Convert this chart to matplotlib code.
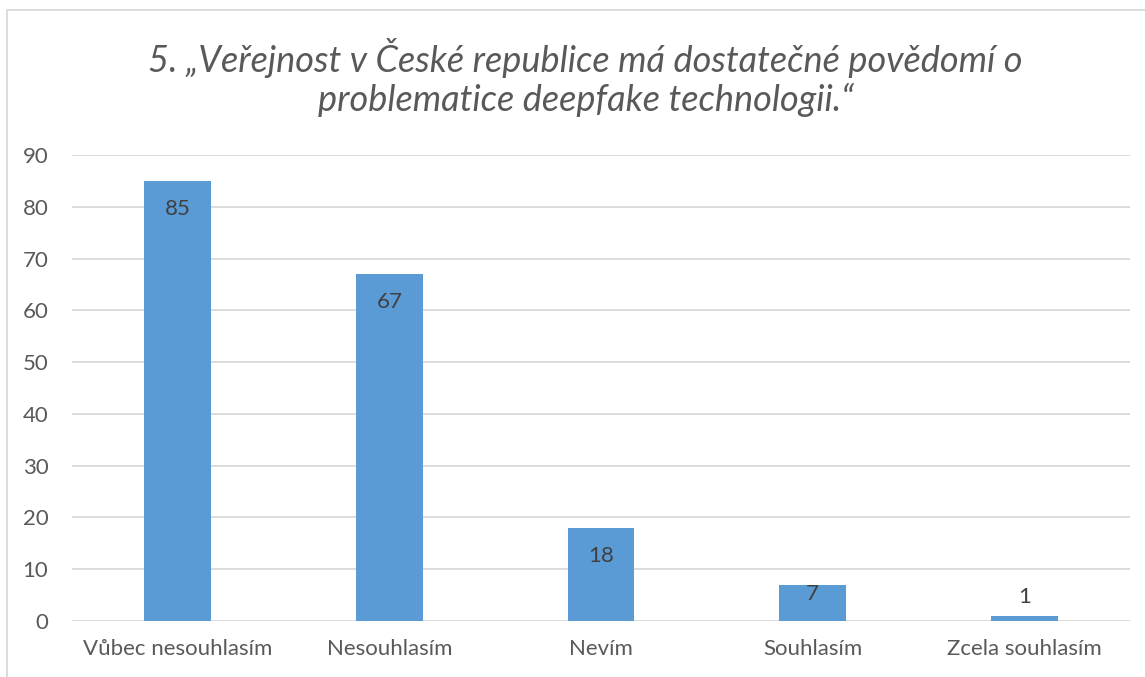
import matplotlib
matplotlib.use("Agg")
import matplotlib.pyplot as plt
from matplotlib.patches import Rectangle

categories = ["Vůbec nesouhlasím", "Nesouhlasím", "Nevím", "Souhlasím", "Zcela souhlasím"]
values = [85, 67, 18, 7, 1]
yticks = [0, 10, 20, 30, 40, 50, 60, 70, 80, 90]
title_lines = ["5. „Veřejnost v České republice má dostatečné povědomí o",
               "problematice deepfake technologii.“"]

plt.rcParams['font.family'] = ['Lato', 'DejaVu Sans']
txt = '#595959'
bar_color = '#5B9BD5'

W, H = 1145, 677
fig = plt.figure(figsize=(W / 100, H / 100), dpi=100)
ax = fig.add_axes([72 / W, 1 - 621 / H, (1130 - 72) / W, (621 - 155) / H])

x = list(range(len(categories)))
bars = ax.bar(x, values, width=0.316, color=bar_color, zorder=3)
ax.set_xlim(-0.5, len(categories) - 0.5)
ax.set_ylim(0, 90)
ax.set_yticks(yticks)
ax.set_xticks(x)
ax.set_xticklabels(categories)
ax.tick_params(axis='both', length=0, colors=txt, labelsize=16)
ax.tick_params(axis='y', pad=17)
ax.tick_params(axis='x', pad=13)
ax.grid(axis='y', color='#D9D9D9', linewidth=1.3, zorder=0)
for s in ax.spines.values():
    s.set_visible(False)

for rect, v in zip(bars, values):
    cx = rect.get_x() + rect.get_width() / 2
    if v >= 10:
        off = -28
    elif v >= 5:
        off = -9
    else:
        off = 19
    ax.annotate(str(v), (cx, v), xytext=(0, off), textcoords='offset pixels',
                ha='center', va='center', color='#404040', fontsize=16)

fig.text(0.5 + 13 / W, 1 - 58 / H, title_lines[0],
         ha='center', va='center', fontsize=26, style='italic', color=txt)
fig.text(0.5 + 13 / W, 1 - 100 / H, title_lines[1],
         ha='center', va='center', fontsize=26, style='italic', color=txt)

fig.patches.append(Rectangle((7 / W, -0.1), 1.2, 1 - 10 / H + 0.1, transform=fig.transFigure,
                             fill=False, edgecolor='#D9D9D9', linewidth=1.3))

fig.savefig("out.png", dpi=100)
